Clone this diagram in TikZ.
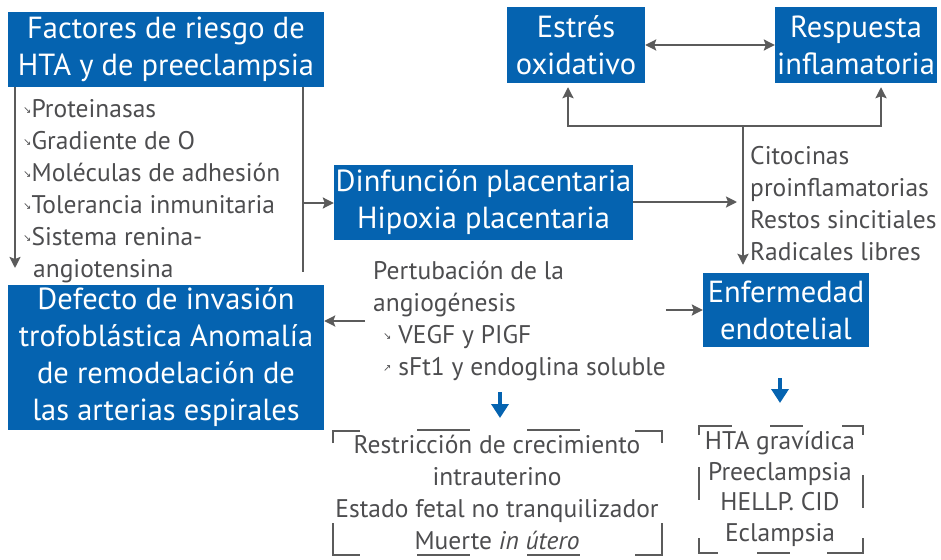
\documentclass[tikz,border=0pt]{standalone}
\usepackage{fontspec}
\setmainfont{PT Sans}
\newfontfamily\symfont{DejaVu Sans}
\usetikzlibrary{arrows.meta}
\usetikzlibrary{calc}

\definecolor{boxblue}{HTML}{0563B0}
\definecolor{txtgray}{HTML}{4D4D4F}
\definecolor{linegray}{HTML}{5B5B5B}

\newcommand{\boxfont}{\fontsize{30.5}{37}\selectfont}
\newcommand{\listfont}{\fontsize{25.5}{32}\selectfont}
\newcommand{\dn}{\raisebox{4pt}{\symfont\fontsize{10}{10}\selectfont ↘}}
\newcommand{\up}{\raisebox{4pt}{\symfont\fontsize{10}{10}\selectfont ↗}}

\begin{document}
\begin{tikzpicture}[x=1pt,y=-1pt,
    bluebox/.style={fill=boxblue,text=white,font=\boxfont,align=center,inner sep=0pt},
    plain/.style={text=txtgray,font=\listfont,inner sep=0pt},
    arr/.style={draw=linegray,line width=2.5pt,-{Stealth[length=11pt,width=11pt,inset=2pt]}},
    dblarr/.style={draw=linegray,line width=2.5pt,{Stealth[length=11pt,width=11pt,inset=2pt]}-{Stealth[length=11pt,width=11pt,inset=2pt]}},
    bar/.style={draw=linegray,line width=2.5pt},
    bluearr/.style={draw=boxblue,line width=4pt,-{Triangle[length=14pt,width=17pt]}},
    brk/.style={draw=linegray,line width=2pt}]
\useasboundingbox (0,0) rectangle (941,559);

% cajas
\node[bluebox,minimum width=316pt,minimum height=75pt] (factores) at (166,49.5) {Factores de riesgo de\\HTA y de preeclampsia};
\node[bluebox,minimum width=138pt,minimum height=76pt] (estres) at (576,45) {Estrés\\oxidativo};
\node[bluebox,minimum width=162pt,minimum height=76pt] (respuesta) at (856,45) {Respuesta\\inflamatoria};
\node[bluebox,minimum width=299pt,minimum height=75pt] (dinf) at (483.5,202) {Dinfunción placentaria\\Hipoxia placentaria};
\node[bluebox,minimum width=316pt,minimum height=145pt] (defecto) at (166,357.5) {Defecto de invasión\\trofoblástica Anomalía\\de remodelación de\\las arterias espirales};
\node[bluebox,minimum width=166pt,minimum height=74pt] (enferm) at (786,310) {Enfermedad\\endotelial};

% textos
\node[plain,align=left,anchor=west] (factlist) at (23,191) {\dn Proteinasas\\\dn Gradiente de O\\\dn Moléculas de adhesión\\\dn Tolerancia inmunitaria\\\dn Sistema renina-\\\hspace{10pt}angiotensina};
\node[plain,align=left,anchor=west] (citoc) at (750,204) {Citocinas\\proinflamatorias\\Restos sincitiales\\Radicales libres};
\node[plain,align=left,anchor=west] (pertu) at (373,321) {Pertubación de la\\angiogénesis\\\hspace{10pt}\dn\ VEGF y PIGF\\\hspace{10pt}\up\ sFt1 y endoglina soluble};
\node[plain,align=center] (fetal) at (497,492.5) {Restricción de crecimiento\\intrauterino\\Estado fetal no tranquilizador\\Muerte \textit{in útero}};
\node[plain,align=center,font=\fontsize{25.5}{30.5}\selectfont] (hta) at (780,489) {HTA gravídica\\Preeclampsia\\HELLP. CID\\Eclampsia};

% puntos de union
\coordinate (junct) at (743,126);
\coordinate (lsend) at (15,268);
\coordinate (rbar) at (303,203);
\coordinate (rbarend) at (303,272);
\coordinate (fetalarr) at (500,392);
\coordinate (htaarr) at (780,378);

% conectores
\draw[dblarr] (estres) -- (respuesta);
\draw[arr,shorten >=4pt] (junct) -| ([xshift=-8pt]estres.south);
\draw[arr,shorten >=4pt] (junct) -| ([xshift=25pt]respuesta.south);
\draw[arr,shorten >=8pt] (junct) -- (junct |- enferm.north);
\draw[arr,shorten >=6pt] (dinf.east) -- (dinf.east -| junct);
\draw[arr] (factores.south -| lsend) -- (lsend);
\draw[bar] (factores.south -| rbar) -- (rbarend);
\draw[arr] (rbar) -- (rbar -| dinf.west);
\draw[arr,shorten <=8pt] (pertu.west) -- (pertu.west -| defecto.east);
\draw[arr] (pertu.east |- enferm) -- (enferm);
\draw[bluearr] (fetalarr) -- ++(0,26);
\draw[bluearr] (htaarr) -- ++(0,25);

% corchetes
\draw[brk] (333,443) -- (333,431) -- (360,431);
\draw[brk] (417,430) -- (470,430);
\draw[brk] (527,430) -- (580,430);
\draw[brk] (635,431) -- (662,431) -- (662,443);
\draw[brk] (333,523) -- (333,555) -- (360,555);
\draw[brk] (417,555) -- (470,555);
\draw[brk] (527,555) -- (580,555);
\draw[brk] (635,555) -- (662,555) -- (662,523);

\draw[brk] (699,435) -- (699,426) -- (732,426);
\draw[brk] (770,426) -- (803,426);
\draw[brk] (842,426) -- (863,426) -- (863,435);
\draw[brk] (699,467) -- (699,500);
\draw[brk] (863,475) -- (863,508);
\draw[brk] (699,538) -- (699,553) -- (718,553);
\draw[brk] (757,553) -- (790,553);
\draw[brk] (827,553) -- (863,553) -- (863,538);
\end{tikzpicture}
\end{document}
